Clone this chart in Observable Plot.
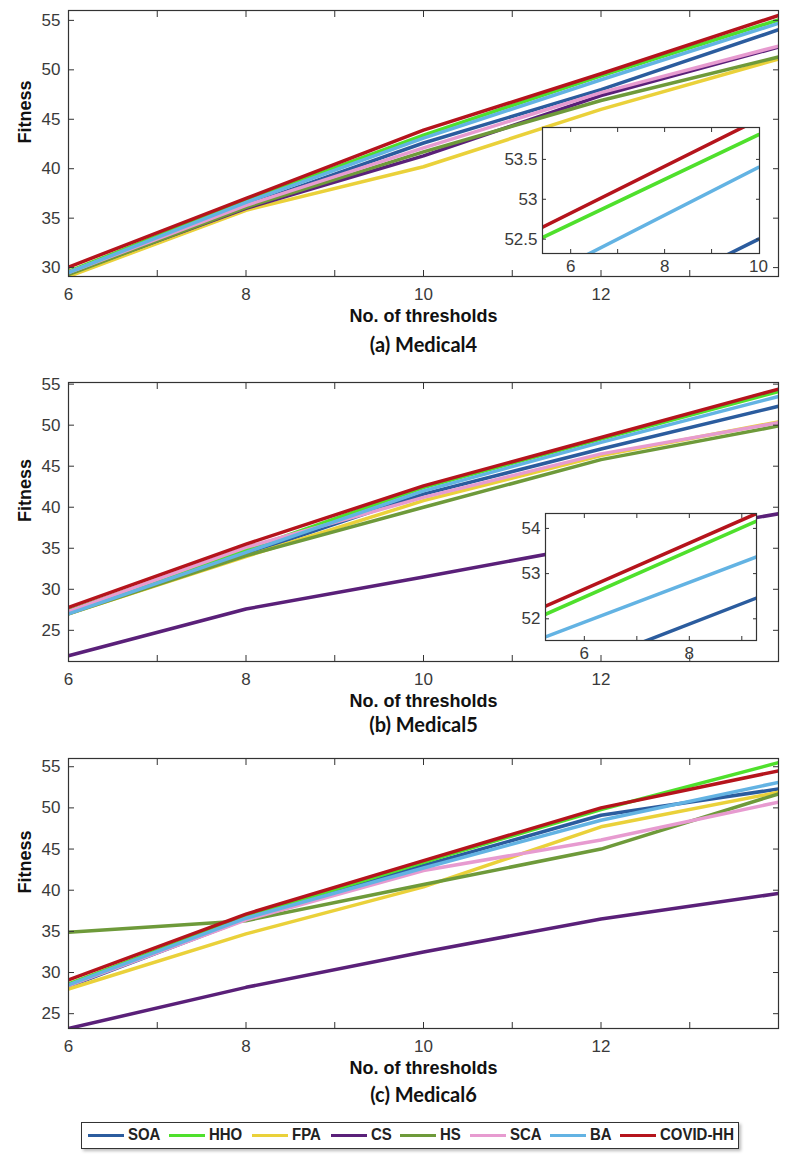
<!DOCTYPE html>
<html><head><meta charset="utf-8">
<script src="https://cdn.jsdelivr.net/npm/d3@7"></script>
<script src="https://cdn.jsdelivr.net/npm/@observablehq/plot@0.6"></script>
<style>
body{margin:0;background:#fff;}
#root{position:relative;width:789px;height:1159px;overflow:hidden;background:#fff;}
#legend{position:absolute;left:81px;top:1122px;width:658px;height:27px;border:1.5px solid #333;box-sizing:border-box;box-shadow:2px 2px 3px #bbb;background:#fff;
 font-family:"Liberation Sans",Arial,sans-serif;font-weight:bold;font-size:17px;color:#222;}
.item{position:absolute;top:0;height:24px;display:flex;align-items:center;white-space:nowrap;}
.swatch{width:36px;height:3px;margin-right:4px;}
.lab{display:inline-block;transform:scaleX(0.88);transform-origin:left center;}
</style></head><body><div id="root"></div>
<script>
// ---------- data ----------
const thresholds = [6, 8, 10, 12, 14];
const algorithms = ["SOA", "HHO", "FPA", "CS", "HS", "SCA", "BA", "COVID-HH"];
const colors = ["#2b5c9e", "#4fe02c", "#ead13a", "#5a2079", "#6e9a3a", "#e79bd0", "#63b3e3", "#b5141c"];

// rows in algorithm order: SOA, HHO, FPA, CS, HS, SCA, BA, COVID-HH
const medical4 = [
  [29.5, 36.3, 42.6, 48.0, 54.05],
  [29.6, 36.8, 43.4, 49.4, 55.05],
  [29.1, 35.8, 40.2, 46.0, 51.1],
  [29.4, 36.0, 41.3, 47.4, 52.3],
  [29.3, 36.1, 41.7, 46.9, 51.3],
  [29.5, 36.3, 42.1, 47.7, 52.4],
  [29.5, 36.6, 43.1, 49.0, 54.7],
  [30.05, 37.0, 43.9, 49.6, 55.5]
];
const medical5 = [
  [27.1, 34.3, 41.6, 47.1, 52.3],
  [27.4, 34.8, 42.4, 48.3, 54.1],
  [27.0, 34.0, 40.8, 46.3, 50.4],
  [21.9, 27.6, 31.5, 35.5, 39.2],
  [27.0, 34.1, 40.0, 45.8, 49.9],
  [27.3, 35.1, 41.2, 46.5, 50.3],
  [27.0, 34.5, 42.0, 47.9, 53.5],
  [27.8, 35.5, 42.6, 48.5, 54.4]
];
const medical6 = [
  [28.3, 36.5, 43.0, 49.1, 52.3],
  [28.6, 36.8, 43.4, 49.8, 55.5],
  [28.0, 34.7, 40.4, 47.7, 51.9],
  [23.2, 28.2, 32.5, 36.5, 39.6],
  [34.9, 36.3, 40.7, 45.0, 51.7],
  [28.4, 36.4, 42.4, 46.1, 50.7],
  [28.5, 36.6, 42.7, 48.5, 53.1],
  [29.1, 37.1, 43.6, 50.0, 54.5]
];

// zoomed insets (series shown: SOA, HHO, BA, COVID-HH)
const insetAlgorithms = ["SOA", "HHO", "BA", "COVID-HH"];
const inset1X = [5.4, 10];
const inset1 = [
  [51.15, 52.5],
  [52.52, 53.81],
  [52.02, 53.40],
  [52.65, 54.0]
];
const inset2X = [5.26, 9.28];
const inset2 = [
  [50.65, 52.46],
  [52.1, 54.16],
  [51.6, 53.37],
  [52.28, 54.33]
];

const xTickLabels = [6, 8, 10, 12];
const xMinorTicks = [7, 8, 9, 10, 11, 12, 13];
const yTicksA = [30, 35, 40, 45, 50, 55];
const yTicksBC = [25, 30, 35, 40, 45, 50, 55];
const legendItemLeft = [6, 87, 170, 249, 318, 388, 468, 538];

// ---------- drawing ----------
const root = document.getElementById("root");
const tickFont = '"Liberation Sans", Arial, sans-serif';
const baseStyle = {fontFamily: tickFont, fontSize: "17px", color: "#3a3a3a", background: "transparent", overflow: "visible"};

function toRows(names, xs, table) {
  const rows = [];
  names.forEach((a, i) => table[i].forEach((v, j) => rows.push({alg: a, x: xs[j], y: v})));
  return rows;
}

function frameTicks(xMinor, yTicks, size) {
  return [
    Plot.axisX(xMinor, {anchor: "bottom", tickSize: size, dy: -size, fill: "none", stroke: "#333"}),
    Plot.axisX(xMinor, {anchor: "top", tickSize: size, dy: size, fill: "none", stroke: "#333"}),
    Plot.axisY(yTicks, {anchor: "left", tickSize: size, dx: size, fill: "none", stroke: "#333"}),
    Plot.axisY(yTicks, {anchor: "right", tickSize: size, dx: -size, fill: "none", stroke: "#333"})
  ];
}

function panel(cfg) {
  const rows = toRows(algorithms, thresholds, cfg.data);
  const svg = Plot.plot({
    width: 789, height: cfg.height,
    marginLeft: 68, marginRight: 11,
    marginTop: cfg.frameTop - cfg.top,
    marginBottom: cfg.height - (cfg.frameBottom - cfg.top),
    x: {domain: [6, 14]},
    y: {domain: cfg.yDomain},
    color: {domain: algorithms, range: colors},
    style: baseStyle,
    marks: [
      Plot.line(rows, {x: "x", y: "y", z: "alg", stroke: "alg", strokeWidth: 3.5, clip: true}),
      Plot.frame({stroke: "#333", strokeWidth: 1.2}),
      ...frameTicks(xMinorTicks, cfg.yTicks, 6),
      Plot.axisX(xTickLabels, {anchor: "bottom", tickSize: 0, tickPadding: 11, label: null, tickFormat: d => String(d)}),
      Plot.axisY(cfg.yTicks, {anchor: "left", tickSize: 0, tickPadding: 8, label: null, tickFormat: d => String(d)}),
      Plot.text(["No. of thresholds"], {text: d => d, frameAnchor: "bottom", dy: 45, fontSize: 18, fontWeight: "bold", fill: "#111", fontFamily: tickFont}),
      Plot.text([cfg.caption], {text: d => d, frameAnchor: "bottom", dy: cfg.captionDy, fontSize: 20, fontWeight: "bold", fill: "#111", fontFamily: "Lato, 'Open Sans', sans-serif"}),
      Plot.text(["Fitness"], {text: d => d, frameAnchor: "left", dx: -43, rotate: -90, fontSize: 18, fontWeight: "bold", fill: "#111", fontFamily: tickFont})
    ]
  });
  svg.style.position = "absolute";
  svg.style.left = "0px";
  svg.style.top = cfg.top + "px";
  root.appendChild(svg);
}

function inset(cfg) {
  const ml = 44, mr = 4, mt = 2, mb = 26;
  const rows = toRows(insetAlgorithms, cfg.xs, cfg.data);
  const svg = Plot.plot({
    width: cfg.w + ml + mr, height: cfg.h + mt + mb,
    marginLeft: ml, marginRight: mr, marginTop: mt, marginBottom: mb,
    x: {domain: cfg.xDomain},
    y: {domain: cfg.yDomain},
    color: {domain: algorithms, range: colors},
    style: baseStyle,
    marks: [
      Plot.frame({fill: "white", stroke: "none"}),
      Plot.line(rows, {x: "x", y: "y", z: "alg", stroke: "alg", strokeWidth: 3.5, clip: true}),
      Plot.frame({stroke: "#333", strokeWidth: 1.2}),
      ...frameTicks(cfg.xMinor, cfg.yTicks, 4),
      Plot.axisX(cfg.xTicks, {anchor: "bottom", tickSize: 0, tickPadding: 6, label: null, tickFormat: d => String(d)}),
      Plot.axisY(cfg.yTicks, {anchor: "left", tickSize: 0, tickPadding: 5, label: null, tickFormat: d => String(d)})
    ]
  });
  svg.style.position = "absolute";
  svg.style.left = (cfg.left - ml) + "px";
  svg.style.top = (cfg.top - mt) + "px";
  root.appendChild(svg);
}

panel({data: medical4, yDomain: [29.1, 56], yTicks: yTicksA, top: 0, height: 370, frameTop: 10, frameBottom: 276, caption: "(a) Medical4", captionDy: 75});
inset({xs: inset1X, data: inset1, xDomain: [5.4, 10.02], yDomain: [52.32, 53.9], xTicks: [6, 8, 10], xMinor: [6, 7, 8, 9], yTicks: [52.5, 53, 53.5], left: 542, top: 127, w: 217, h: 126});

panel({data: medical5, yDomain: [21.2, 55.2], yTicks: yTicksBC, top: 370, height: 372, frameTop: 382, frameBottom: 661, caption: "(b) Medical5", captionDy: 70});
inset({xs: inset2X, data: inset2, xDomain: [5.26, 9.28], yDomain: [51.52, 54.33], xTicks: [6, 8], xMinor: [6, 7, 8, 9], yTicks: [52, 53, 54], left: 545, top: 513, w: 211, h: 127});

panel({data: medical6, yDomain: [23.2, 56], yTicks: yTicksBC, top: 742, height: 376, frameTop: 758, frameBottom: 1028, caption: "(c) Medical6", captionDy: 73});

// legend
const legend = document.createElement("div");
legend.id = "legend";
algorithms.forEach((a, i) => {
  const item = document.createElement("div");
  item.className = "item";
  item.style.left = legendItemLeft[i] + "px";
  const sw = document.createElement("span");
  sw.className = "swatch";
  sw.style.background = colors[i];
  const lab = document.createElement("span");
  lab.className = "lab";
  lab.textContent = a;
  item.appendChild(sw); item.appendChild(lab);
  legend.appendChild(item);
});
root.appendChild(legend);
</script></body></html>
